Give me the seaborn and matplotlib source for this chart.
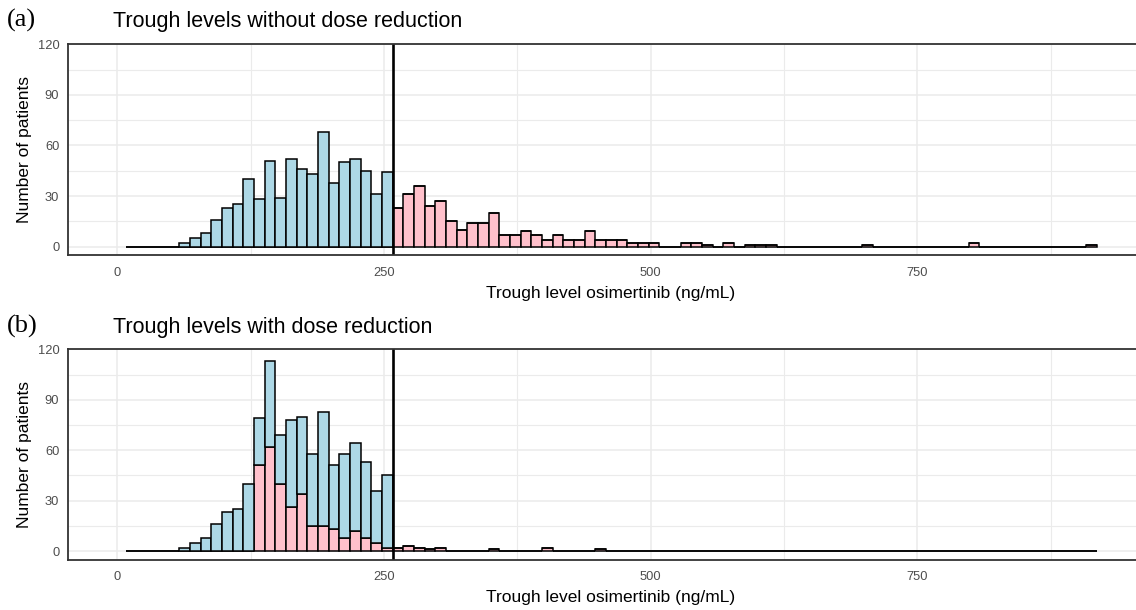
import numpy as np
import pandas as pd
import matplotlib.pyplot as plt
import seaborn as sns

sns.set_style("white")
plt.rcParams['font.family'] = ['Liberation Sans', 'DejaVu Sans']

# histogram bins (10 ng/mL wide)
edges = list(range(8, 928, 10))
bin_mid = [e + 5 for e in edges[:-1]]
threshold = 258

# (a) without dose reduction: patients per bin
counts_a = ([0, 0, 0, 0, 0,
             2, 5, 8, 16, 23, 25, 40, 28, 51, 29, 52, 46, 43, 68, 38, 50, 52, 45, 31, 44,
             23, 31, 36, 24, 27, 15, 10, 14, 14, 20, 7, 7, 9, 7, 4, 7, 4, 4, 9, 4,
             4, 4, 2, 2, 2, 0, 0, 2, 2, 1, 0, 2, 0, 1, 1, 1]
            + [0] * 8 + [1] + [0] * 9 + [2] + [0] * 10 + [1])

# (b) with dose reduction: total per bin and the part that got a reduction
counts_b_total = ([0, 0, 0, 0, 0,
                   2, 5, 8, 16, 23, 25, 40, 79, 113, 69, 78, 80, 58, 83, 51, 58, 64, 53, 36, 45,
                   2, 3, 2, 1, 2, 0, 0, 0, 0, 1, 0, 0, 0, 0, 2, 0, 0, 0, 0, 1]
                  + [0] * 46)
counts_b_reduced = ([0, 0, 0, 0, 0,
                     0, 0, 0, 0, 0, 0, 0, 51, 62, 40, 26, 34, 15, 15, 13, 8, 12, 8, 5, 2,
                     2, 3, 2, 1, 2, 0, 0, 0, 0, 1, 0, 0, 0, 0, 2, 0, 0, 0, 0, 1]
                    + [0] * 46)

blue = "#ADD8E6"
pink = "#FFC0CB"

dfA = pd.DataFrame({"trough": bin_mid, "n": counts_a})
dfA["grp"] = np.where(dfA.trough < threshold, "low", "high")

dfB = pd.concat([
    pd.DataFrame({"trough": bin_mid, "n": np.array(counts_b_total) - np.array(counts_b_reduced), "grp": "low"}),
    pd.DataFrame({"trough": bin_mid, "n": counts_b_reduced, "grp": "high"}),
], ignore_index=True)

fig = plt.figure(figsize=(11.36, 6.10), dpi=100)
W, H = 1136, 610


def panel(top, bottom, data, title, tag, ty):
    ax = fig.add_axes([68.3 / W, 1 - bottom / H, (1152 - 68.3) / W, (bottom - top) / H])
    sns.histplot(data=data, x="trough", weights="n", hue="grp", hue_order=["low", "high"],
                 bins=edges, multiple="stack", palette={"low": blue, "high": pink},
                 alpha=1, edgecolor="black", linewidth=1.1, legend=False, ax=ax)
    ax.axvline(threshold, color="black", lw=1.9)
    ax.set_xlim(-46, 970)
    ax.set_ylim(-5, 120)
    ax.set_xticks([0, 250, 500, 750])
    ax.set_yticks([0, 30, 60, 90, 120])
    ax.set_xticks([125, 375, 625, 875], minor=True)
    ax.set_yticks([15, 45, 75, 105], minor=True)
    ax.set_axisbelow(True)
    ax.grid(True, which="major", color="#EBEBEB", lw=1.1)
    ax.grid(True, which="minor", color="#EBEBEB", lw=0.8)
    ax.tick_params(which="major", length=3.5, width=1.0, color="#333333",
                   labelsize=9.3, labelcolor="#4D4D4D")
    ax.tick_params(axis="x", pad=5)
    ax.tick_params(axis="y", pad=3)
    ax.tick_params(which="minor", length=0)
    for s in ax.spines.values():
        s.set_color("#333333")
        s.set_linewidth(1.3)
    ax.set_xlabel("Trough level osimertinib (ng/mL)", fontsize=12.5, labelpad=5, color="black")
    ax.set_ylabel("Number of patients", fontsize=12.5, labelpad=4, color="black")
    fig.text(113 / W, 1 - ty / H, title, fontsize=15.5, va="center", ha="left", color="black")
    fig.text(7 / W, 1 - (ty - 2) / H, tag, fontsize=19, va="center", ha="left",
             family="Liberation Serif", color="black")
    return ax


panel(44.3, 255, dfA, "Trough levels without dose reduction", "(a)", 22)
panel(349.3, 559.5, dfB, "Trough levels with dose reduction", "(b)", 328)

fig.savefig("out.png", dpi=100)
